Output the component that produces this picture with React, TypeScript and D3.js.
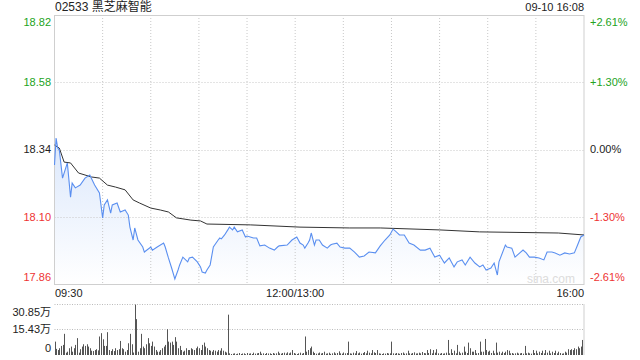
import React from "react";
import * as d3 from "d3";

const title = "02533 黑芝麻智能";
const stamp = "09-10 16:08";
const priceTicks = [18.82, 18.58, 18.34, 18.1, 17.86];
const pctTicks = ["+2.61%", "+1.30%", "0.00%", "-1.30%", "-2.61%"];
const timeLabels = ["09:30", "12:00/13:00", "16:00"];
const volTickLabels = ["30.85万", "15.43万", "0"];
const volTicks = [30.85, 15.43, 0];

const priceMinutes = [0,1,2,3,5,8,10,11,13,16,19,22,25,28,30,31,33,35,36,39,41,44,46,47,49,50,52,55,56,60,61,64,68,69,71,73,75,77,78,80,83,84,86,89,91,92,94,95,97,99,102,103,104,106,108,109,111,112,114,117,119,120,122,124,126,128,131,134,137,139,140,145,148,151,153,155,156,158,159,160,162,163,165,167,170,172,173,176,178,181,184,187,190,193,196,200,203,206,209,211,213,215,218,221,224,228,231,234,237,240,243,246,249,251,254,256,259,262,265,267,269,272,274,276,277,281,282,285,287,290,292,294,296,299,302,305,307,310,312,315,318,321,324,326,328,330];
const prices = [18.285,18.381,18.345,18.338,18.238,18.292,18.17,18.22,18.203,18.213,18.238,18.249,18.213,18.185,18.096,18.142,18.16,18.113,18.142,18.149,18.117,18.124,18.106,18.063,18.017,18.06,18.017,17.992,17.974,17.992,17.981,17.992,18.006,17.992,17.953,17.917,17.878,17.91,17.928,17.956,17.939,17.953,17.956,17.939,17.921,17.903,17.899,17.91,17.928,17.992,18.017,18.024,18.021,18.035,18.053,18.063,18.053,18.063,18.046,18.053,18.028,18.031,18.028,18.024,18.024,17.996,17.999,17.988,17.981,17.992,17.996,17.999,18.017,18.028,18.006,17.999,17.988,18.006,18.017,18.042,17.999,18.017,18.017,17.999,17.988,17.999,18.002,18.006,17.992,17.988,17.988,17.974,17.956,17.96,17.974,17.971,17.996,18.017,18.035,18.056,18.046,18.035,18.035,18.006,17.999,17.981,17.981,17.988,17.956,17.963,17.935,17.953,17.921,17.939,17.946,17.928,17.956,17.935,17.921,17.928,17.91,17.917,17.935,17.892,17.939,17.999,17.992,17.988,17.956,17.971,17.981,17.971,17.956,17.956,17.953,17.946,17.974,17.974,17.971,17.963,17.971,17.967,17.971,17.999,18.028,18.035];

const avgMinutes = [0,3,6,10,15,19,23,28,33,38,44,49,53,60,66,71,76,85,91,95,122,153,184,203,240,265,314,330];
const avgPrices = [18.356,18.345,18.295,18.292,18.256,18.249,18.242,18.238,18.213,18.206,18.196,18.16,18.149,18.131,18.124,18.117,18.096,18.088,18.085,18.074,18.071,18.063,18.06,18.06,18.053,18.046,18.042,18.035];

const volumeAM = [8.1,3.7,3.0,4.1,5.5,6.1,12.8,1.4,2.0,4.1,5.1,2.0,4.1,6.1,10.2,1.4,3.5,5.1,6.5,5.5,6.5,5.1,4.1,2.6,2.4,3.0,3.5,2.8,11.2,13.2,9.5,5.5,5.5,13.8,3.0,2.4,3.5,2.4,4.1,3.0,3.5,8.5,4.1,3.5,2.0,3.0,7.1,12.8,6.5,1.5,30.5,21.7,2.0,4.1,12.8,5.1,4.1,6.5,10.2,7.1,5.5,8.1,5.1,3.0,2.0,2.0,3.0,4.1,5.1,6.1,15.6,8.1,7.5,8.1,6.1,10.8,8.1,4.1,5.5,3.0,2.0,2.6,4.1,3.0,3.0,4.1,3.5,3.0,4.1,5.1,4.1,3.0,6.1,7.5,5.1,4.1,3.0,2.6,2.0,3.0,2.6,2.0,3.0,2.6,4.1,2.6,2.0,1.5,24.4,1.0,0.6,0.8,1.0,0.5,0.8,1.2,0.6,0.9,1.0,0.5,1.2,0.8,1.0,0.6,1.4,0.8,1.0,1.2,2.0,0.8,1.0,0.6,1.2,0.9,1.0,0.6,1.2,0.8,1.0,2.0,1.0,0.8,1.2,1.4,0.9,1.6,1.0,1.5,3.0,1.2];
const volumePM = [0.8,0.6,1.0,1.4,0.8,1.2,11.2,2.0,3.0,4.1,5.1,2.0,1.2,0.8,1.0,1.5,0.9,1.2,2.0,0.8,1.0,1.4,0.7,1.0,1.6,0.9,1.2,2.2,1.0,0.8,1.5,1.0,1.2,8.1,1.0,0.8,1.4,1.0,2.4,1.0,1.5,0.8,1.2,1.8,1.0,2.6,1.4,1.0,3.0,1.6,1.2,3.0,1.0,0.8,0.6,1.0,0.8,1.2,0.9,1.0,8.1,1.0,0.8,1.2,1.0,0.7,1.2,1.5,0.8,1.0,2.6,1.0,0.8,1.2,1.6,0.9,1.0,1.4,1.0,1.8,1.2,1.0,3.0,1.2,3.5,1.0,3.0,1.4,3.5,1.0,0.8,1.2,0.8,1.0,1.4,9.1,1.0,3.5,1.2,2.6,1.0,6.1,2.0,1.0,1.4,5.1,2.0,1.2,7.5,4.1,2.0,2.0,3.0,1.0,1.2,8.1,2.0,2.0,9.7,3.0,2.0,2.6,1.2,2.6,1.0,7.5,1.4,2.0,1.0,2.0,1.2,2.0,3.0,2.6,1.0,1.2,0.8,1.0,1.4,0.9,1.0,1.2,0.8,5.5,1.0,1.4,1.0,0.8,3.0,1.2,2.6,1.0,2.0,1.2,2.6,1.0,3.0,1.4,2.6,1.0,2.0,1.2,2.6,1.0,2.0,1.2,0.8,1.0,2.0,1.4,3.5,3.0,3.5,3.0,4.1,3.5,5.1,4.1,5.1,9.1];

const FONT = "Arial, 'Liberation Sans', 'Noto Sans CJK SC', sans-serif";
const GREEN = "#22a322";
const RED = "#ee3333";

export default function App() {
  const left = 54.5, right = 584, top = 15, bottom = 284;
  const vTop = 304, vBottom = 355;
  const x = d3.scaleLinear().domain([0, 330]).range([left, right]);
  const y = d3.scaleLinear().domain([17.86, 18.82]).range([bottom, top]);
  const yv = d3.scaleLinear().domain([0, 30.85]).range([vBottom, vTop]);

  const pts = priceMinutes.map((m, i) => [m, prices[i]] as [number, number]);
  const avgPts = avgMinutes.map((m, i) => [m, avgPrices[i]] as [number, number]);
  const line = d3.line<[number, number]>().x(d => x(d[0])).y(d => y(d[1]));
  const area = d3.area<[number, number]>().x(d => x(d[0])).y0(bottom).y1(d => y(d[1]));
  const vols = [...volumeAM, ...volumePM];

  const labelColors = [GREEN, GREEN, "#222", RED, RED];
  const labelY = [22, y(18.58), y(18.34), y(18.1), 277];
  const vLabelY = [312, yv(15.43), 348.5];

  return (
    <svg width={640} height={360} style={{ position: "fixed", left: 0, top: 0, background: "#fff" }} fontFamily={FONT}>
      <defs>
        <linearGradient id="fillg" x1="0" y1={130} x2="0" y2={bottom} gradientUnits="userSpaceOnUse">
          <stop offset="0" stopColor="#d9e6fb" />
          <stop offset="1" stopColor="#ffffff" />
        </linearGradient>
      </defs>
      <text x={55} y={11} fontSize={12} fill="#222">{title}</text>
      <text x={right} y={11} fontSize={11} fill="#222" textAnchor="end">{stamp}</text>

      <path d={area(pts) || ""} fill="url(#fillg)" />

      {d3.range(1, 11).map(k => (
        <line key={"vg" + k} x1={x(k * 30)} x2={x(k * 30)} y1={top} y2={bottom} stroke="#c8c8c8" strokeDasharray="1 2" />
      ))}
      {[18.58, 18.34, 18.1].map(v => (
        <line key={"hg" + v} x1={left} x2={right} y1={Math.round(y(v)) + 0.5} y2={Math.round(y(v)) + 0.5} stroke="#c8c8c8" strokeDasharray="1 2" />
      ))}
      <rect x={left} y={top + 0.5} width={right - left} height={bottom - top} fill="none" stroke="#cfcfcf" />

      <text x={575} y={283} fontSize={12} fill="#dcdcdc" textAnchor="end">sina.com</text>

      <path d={line(avgPts) || ""} fill="none" stroke="#333" strokeWidth={1} />
      <path d={line(pts) || ""} fill="none" stroke="#5a8ff0" strokeWidth={1.1} />

      {priceTicks.map((v, i) => (
        <text key={"pl" + i} x={51} y={labelY[i]} dy="0.35em" fontSize={11} fill={labelColors[i]} textAnchor="end">{v.toFixed(2)}</text>
      ))}
      {pctTicks.map((t, i) => (
        <text key={"pr" + i} x={590} y={labelY[i]} dy="0.35em" fontSize={11} fill={labelColors[i]}>{t}</text>
      ))}

      <text x={55} y={293} dy="0.35em" fontSize={11} fill="#222">{timeLabels[0]}</text>
      <text x={x(150)} y={293} dy="0.35em" fontSize={11} fill="#222" textAnchor="middle">{timeLabels[1]}</text>
      <text x={right} y={293} dy="0.35em" fontSize={11} fill="#222" textAnchor="end">{timeLabels[2]}</text>

      {[30.85, 15.43].map(v => (
        <line key={"vv" + v} x1={left} x2={right} y1={Math.round(yv(v)) + 0.5} y2={Math.round(yv(v)) + 0.5} stroke="#bbb" strokeDasharray="1 1.5" />
      ))}
      <line x1={right} x2={right} y1={vTop} y2={vBottom} stroke="#cfcfcf" />
      {vols.map((v, i) => (
        <line key={"b" + i} x1={Math.round(x(i)) + 0.5} x2={Math.round(x(i)) + 0.5} y1={vBottom} y2={yv(v)} stroke="#555" strokeWidth={1} />
      ))}
      {volTickLabels.map((t, i) => (
        <text key={"vl" + i} x={51} y={vLabelY[i]} dy="0.35em" fontSize={11} fill="#222" textAnchor="end">{t}</text>
      ))}
      {volTicks.length === 0 ? null : null}
    </svg>
  );
}
